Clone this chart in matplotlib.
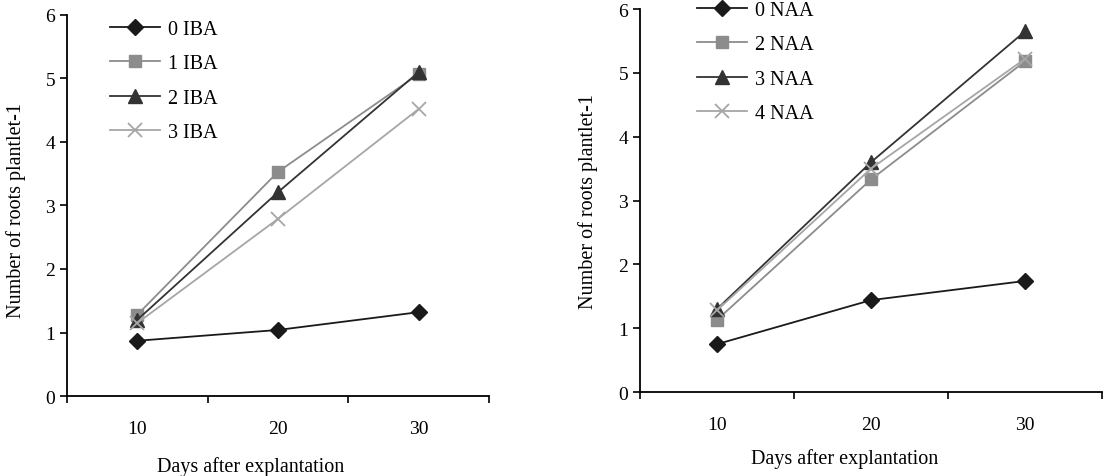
import matplotlib.pyplot as plt
import numpy as np

plt.rcParams['font.family'] = ['Liberation Serif', 'DejaVu Serif']

days = ['10', '20', '30']

iba_labels = ['0 IBA', '1 IBA', '2 IBA', '3 IBA']
iba_0 = [0.87, 1.04, 1.32]
iba_1 = [1.28, 3.53, 5.07]
iba_2 = [1.20, 3.21, 5.10]
iba_3 = [1.15, 2.79, 4.52]

naa_labels = ['0 NAA', '2 NAA', '3 NAA', '4 NAA']
naa_0 = [0.75, 1.44, 1.74]
naa_2 = [1.13, 3.33, 5.18]
naa_3 = [1.30, 3.60, 5.65]
naa_4 = [1.28, 3.50, 5.22]

styles = [
    dict(color='#1a1a1a', marker='D', ms=8.5),
    dict(color='#8c8c8c', marker='s', ms=9),
    dict(color='#333333', marker='^', ms=9.5),
    dict(color='#a6a6a6', marker='x', ms=10, mew=1.3),
]

fig = plt.figure(figsize=(11.08, 4.77), dpi=100)
ax1 = fig.add_axes([0.0605, 0.1677, 0.3808, 0.7988])
ax2 = fig.add_axes([0.5776, 0.176, 0.417, 0.803])

x = np.arange(len(days)) + 0.5


def draw(ax, series, labels, legend_anchor):
    for vals, lab, st in zip(series, labels, styles):
        ax.plot(x, vals, lw=1.3, label=lab, **st)
    ax.set_xlim(0, 3)
    ax.set_ylim(0, 6)
    ax.set_xticks([0, 1, 2, 3])
    ax.set_xticklabels([])
    ax.set_xticks(x, minor=True)
    ax.set_xticklabels(days, minor=True, fontsize=14)
    ax.tick_params(axis='x', which='minor', length=0, pad=17)
    ax.tick_params(axis='x', which='major', direction='out', length=5, width=1.2)
    ax.tick_params(axis='y', direction='out', length=5, width=1.2, labelsize=14, pad=3.5)
    ax.set_yticks(range(7))
    for s in ['top', 'right']:
        ax.spines[s].set_visible(False)
    for s in ['left', 'bottom']:
        ax.spines[s].set_linewidth(1.3)
    ax.set_ylabel('Number of roots plantlet-1', fontsize=14.5)
    ax.set_xlabel('Days after explantation', fontsize=14.5)
    ax.legend(loc='upper left', bbox_to_anchor=legend_anchor, frameon=False,
              fontsize=14.5, handlelength=2.5, labelspacing=0.76,
              handletextpad=0.4, borderaxespad=0, borderpad=0)


draw(ax1, [iba_0, iba_1, iba_2, iba_3], iba_labels, (0.102, 0.987))
ax1.yaxis.set_label_coords(-0.098, 0.49)
ax1.xaxis.set_label_coords(0.434, -0.157)
draw(ax2, [naa_0, naa_2, naa_3, naa_4], naa_labels, (0.123, 1.021))
ax2.yaxis.set_label_coords(-0.091, 0.5)
ax2.xaxis.set_label_coords(0.444, -0.146)

fig.savefig('out.png', dpi=100)
